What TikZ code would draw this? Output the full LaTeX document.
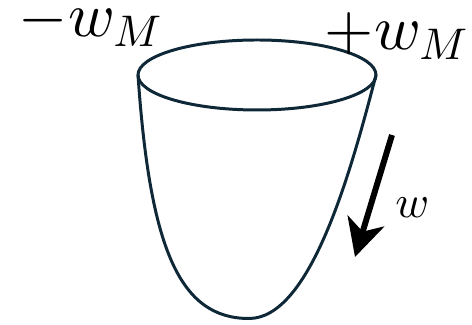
\documentclass[tikz,border=0pt]{standalone}
\usepackage{amsmath, amssymb}
\usetikzlibrary{arrows.meta}
% scalable math fonts for the big labels
\DeclareFontShape{OML}{cmm}{m}{it}{<->cmmi10}{}
\DeclareFontShape{OMS}{cmsy}{m}{n}{<->cmsy10}{}
\DeclareFontShape{OT1}{cmr}{m}{n}{<->cmr10}{}
\definecolor{bowlblue}{RGB}{14,40,56}
\tikzset{
  bowl/.style={draw=bowlblue,line width=1.7pt},
  bound/.style={inner sep=0pt,anchor=base west,font=\fontsize{36}{40}\selectfont},
  flow/.style={line width=3.4pt,-{Stealth[length=0.75cm,width=0.76cm,inset=0.22cm]}}
}
\begin{document}
\begin{tikzpicture}
  \useasboundingbox (0,0) rectangle (9.44,6.5);
  % bowl
  \coordinate (rimL) at (2.76,5.0);
  \coordinate (rimR) at (7.52,5.0);
  \coordinate (bottom) at (4.98,0.13);
  \draw[bowl] (rimL) .. controls (3.0,1.5) and (3.6,0.13) .. (bottom)
              .. controls (6.2,0.13) and (7.0,3.0) .. (rimR);
  \draw[bowl] (5.14,5.0) ellipse (2.38 and 0.70);
  % labels
  \node[bound] (wminus) at (0.37,5.76) {$-w_M$};
  \node[bound] (wplus) at (6.49,5.50) {$+w_M$};
  % arrow
  \coordinate (wtail) at (7.84,3.80);
  \coordinate (whead) at (7.10,1.36);
  \draw[flow] (wtail) -- (whead);
  \node[inner sep=0pt,anchor=base west,font=\fontsize{26}{30}\selectfont] (wlab) at (7.90,2.14) {$w$};
\end{tikzpicture}
\end{document}
